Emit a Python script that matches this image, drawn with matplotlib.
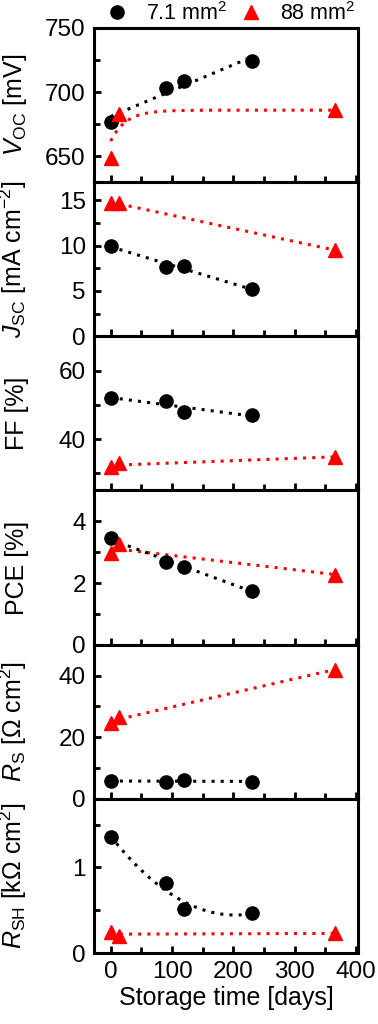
import numpy as np
import matplotlib
matplotlib.use('Agg')
import matplotlib.pyplot as plt
from matplotlib.ticker import MultipleLocator

plt.rcParams['font.family'] = ['Liberation Sans', 'DejaVu Sans']
plt.rcParams['mathtext.fontset'] = 'custom'
plt.rcParams['mathtext.rm'] = 'Liberation Sans'
plt.rcParams['mathtext.it'] = 'Liberation Sans:italic'

# storage days
days_small = [0, 90, 120, 230]   # 7.1 mm2
days_large = [0, 14, 365]        # 88 mm2

voc_small = [677, 703, 709, 724]
voc_large = [649, 683, 686]
jsc_small = [10.0, 7.6, 7.7, 5.2]
jsc_large = [14.7, 14.7, 9.5]
ff_small = [52.1, 51.1, 48.0, 47.0]
ff_large = [31.9, 32.9, 34.8]
pce_small = [3.45, 2.69, 2.53, 1.75]
pce_large = [2.96, 3.27, 2.27]
rs_small = [5.7, 5.5, 6.2, 5.5]
rs_large = [24.6, 26.5, 41.9]
rsh_small = [1.35, 0.82, 0.51, 0.47]
rsh_large = [0.24, 0.2, 0.23]

# saturating fit for large-area Voc: a - b*exp(-t/tau)
voc_large_fit = [686, 24, 25]

ylabels = [r'$V_{\mathrm{OC}}$ [mV]', r'$J_{\mathrm{SC}}$ [mA cm$^{-2}$]', 'FF [%]',
           'PCE [%]', r'$R_{\mathrm{S}}$ [$\Omega$ cm$^2$]', r'$R_{\mathrm{SH}}$ [k$\Omega$ cm$^2$]']
ylims = [(630, 750), (0, 17), (25, 70), (0, 5), (0, 50), (0, 1.8)]
ymajor = [50, 5, 20, 2, 20, 1]

panels = [(voc_small, voc_large), (jsc_small, jsc_large), (ff_small, ff_large),
          (pce_small, pce_large), (rs_small, rs_large), (rsh_small, rsh_large)]

fig, axes = plt.subplots(6, 1, figsize=(3.78, 10.24), dpi=100, sharex=True)
plt.subplots_adjust(left=0.249, right=0.947, top=0.9727, bottom=0.0693, hspace=0)

dot = dict(linestyle=(0, (1, 2)), linewidth=2.2, zorder=2)
ts = np.linspace(0, 230, 100)
tl = np.linspace(0, 365, 200)

for i, ax in enumerate(axes):
    ys, yl = panels[i]
    if i == 0:
        a, b, tau = voc_large_fit
        ax.plot(tl, a - b * np.exp(-tl / tau), color='red', **dot)
    else:
        p = np.polyfit(days_large, yl, 1)
        ax.plot(tl, np.polyval(p, tl), color='red', **dot)
    deg = 2 if i == 5 else 1
    p = np.polyfit(days_small, ys, deg)
    ax.plot(ts, np.polyval(p, ts), color='black', **dot)

    ax.plot(days_small, ys, 'o', color='black', markersize=9.5, zorder=3, label='7.1 mm$^2$')
    ax.plot(days_large, yl, '^', color='red', markersize=10, zorder=3, label='88 mm$^2$')

    ax.set_xlim(-27, 403)
    ax.set_ylim(*ylims[i])
    ax.yaxis.set_major_locator(MultipleLocator(ymajor[i]))
    ax.yaxis.set_minor_locator(MultipleLocator(ymajor[i] / 2))
    ax.xaxis.set_major_locator(MultipleLocator(100))
    ax.xaxis.set_minor_locator(MultipleLocator(50))
    ax.tick_params(which='both', direction='in', top=False, right=False, width=2,
                   labelsize=17.5, pad=6)
    ax.tick_params(which='major', length=5)
    ax.tick_params(which='minor', length=4)
    for s in ax.spines.values():
        s.set_linewidth(2.2)
    ax.set_ylabel(ylabels[i], fontsize=18)
    ax.yaxis.set_label_coords(-0.245, 0.5)

axes[-1].set_xlabel('Storage time [days]', fontsize=18, labelpad=2)

h, l = axes[0].get_legend_handles_labels()
fig.legend(h, l, loc='center', bbox_to_anchor=(0.611, 0.987), ncol=2, frameon=False,
           fontsize=15.5, handletextpad=0.85, columnspacing=0.62, handlelength=1.0,
           borderpad=0, borderaxespad=0)

fig.savefig('out.png', dpi=100)
